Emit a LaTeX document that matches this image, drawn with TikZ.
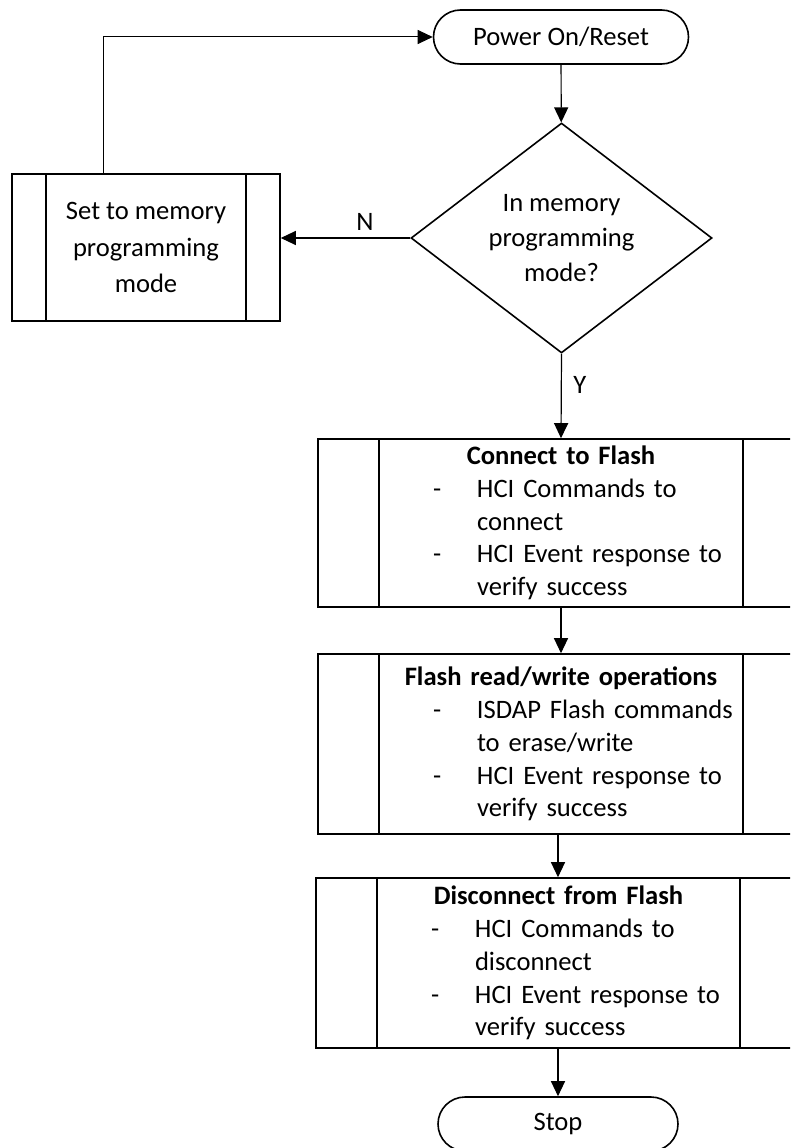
\documentclass[tikz,border=0pt]{standalone}
\usepackage{fontspec}
\setmainfont{Carlito}
\usetikzlibrary{shapes.geometric,arrows.meta}
\setlength{\parindent}{0pt}
\setlength{\parskip}{0pt}
\newcommand{\dashitem}[2]{\par\hspace*{54pt}\makebox[44pt][l]{-}#1\par\hspace*{98pt}#2}
\begin{document}
\begin{tikzpicture}[x=1pt,y=-1pt,
  every node/.style={font=\fontsize{26.6pt}{32.8pt}\selectfont},
  term/.style={draw,line width=1.6pt,rectangle,rounded corners=27pt,minimum height=54pt},
  procbox/.style={draw,line width=1.6pt,rectangle,inner ysep=0pt,
    path picture={\draw[line width=1.6pt]
      ([xshift=#1]path picture bounding box.north west)--([xshift=#1]path picture bounding box.south west)
      ([xshift=-#1]path picture bounding box.north east)--([xshift=-#1]path picture bounding box.south east);}},
  flow/.style={line width=1.2pt,-{Triangle[length=15pt,width=14pt]}}]
\useasboundingbox (0,0) rectangle (790,1148);
\clip (0,0) rectangle (790,1148);
% start / decision
\node[term,minimum width=255pt] (pwr) at (561,37) {Power On/Reset};
\node[draw,line width=1.6pt,diamond,aspect=1.31,inner sep=0pt,minimum width=301pt,minimum height=230pt,
  align=center,font=\fontsize{26.6pt}{35pt}\selectfont] (dec) at (561.5,238) {In memory\\programming\\mode?};
\node[procbox=34pt,minimum width=268pt,minimum height=147pt,align=center,
  font=\fontsize{26.6pt}{36.5pt}\selectfont] (setm) at (146,247.5) {Set to memory\\programming\\mode};
% flash steps
\node[procbox=61pt,inner xsep=61pt,text width=364pt,minimum height=168pt] (conn) at (561,523)
  {{\centering\bfseries Connect to Flash\par}\raggedright
   \dashitem{HCI Commands to}{connect}\dashitem{HCI Event response to}{verify success}};
\node[procbox=61pt,inner xsep=61pt,text width=364pt,minimum height=180pt] (rw) at (561,744)
  {{\centering\bfseries Flash read/write operations\par}\raggedright
   \dashitem{ISDAP Flash commands}{to erase/write}\dashitem{HCI Event response to}{verify success}};
\node[procbox=61pt,inner xsep=61pt,text width=363pt,minimum height=170pt] (disc) at (558.5,963)
  {{\centering\bfseries Disconnect from Flash\par}\raggedright
   \dashitem{HCI Commands to}{disconnect}\dashitem{HCI Event response to}{verify success}};
\node[term,minimum width=240pt] (stop) at (558,1124) {Stop};
% connectors
\coordinate (fbx) at (103,0);
\draw[flow] (pwr) -- (dec);
\draw[flow] (dec.west) -- node[pos=0.35,above=4pt] (nlab) {N} (dec.west -| setm.east);
\draw[flow,line width=1pt] (setm.north -| fbx) |- (pwr.west);
\draw[flow] (dec.south) -- node[pos=0.37,right=8pt] (ylab) {Y} (conn.north);
\draw[flow] (conn) -- (rw);
\draw[flow] (rw.south -| stop) -- (disc.north -| stop);
\draw[flow] (disc.south -| stop) -- (stop);
\end{tikzpicture}
\end{document}
